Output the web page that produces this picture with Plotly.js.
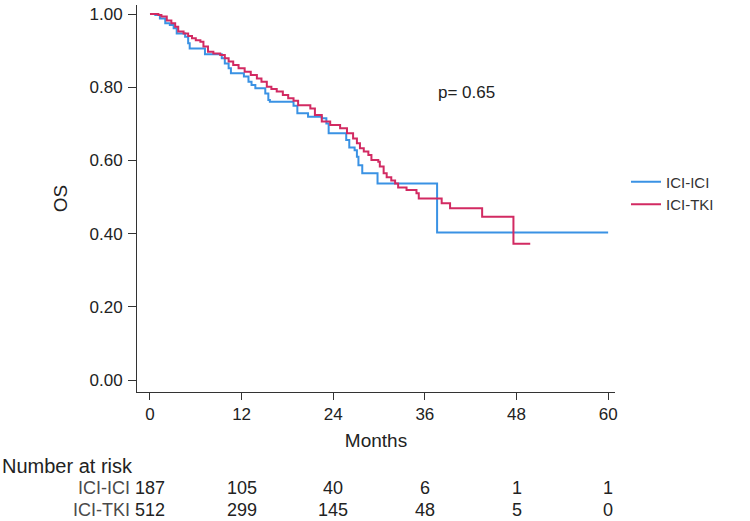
<!DOCTYPE html>
<html>
<head>
<meta charset="utf-8">
<script src="https://cdn.plot.ly/plotly-3.0.1.min.js"></script>
<style>html,body{margin:0;padding:0;background:#fff;}#chart{width:750px;height:521px;}</style>
</head>
<body>
<div id="chart"></div>
<script>
// ICI-ICI Kaplan-Meier steps (months, survival)
var iciIciTime = [0, 0.7, 1.3, 2.0, 2.6, 3.1, 3.5, 4.6, 5.0, 5.2, 7.2, 9.4, 9.8, 10.3, 10.6, 12.3, 12.9, 13.3, 13.8, 15.1, 15.5, 15.7, 18.8, 19.3, 20.7, 22.5, 23.1, 23.4, 25.7, 26.1, 26.8, 27.1, 27.3, 27.8, 29.8, 37.6, 60];
var iciIciSurv = [1.0, 0.997, 0.988, 0.975, 0.970, 0.961, 0.947, 0.938, 0.920, 0.906, 0.890, 0.879, 0.865, 0.852, 0.838, 0.829, 0.815, 0.806, 0.797, 0.783, 0.765, 0.760, 0.749, 0.729, 0.719, 0.715, 0.701, 0.674, 0.656, 0.635, 0.628, 0.610, 0.587, 0.565, 0.537, 0.403, 0.403];

// ICI-TKI Kaplan-Meier steps (months, survival)
var iciTkiTime = [0, 1.1, 1.5, 2.2, 2.8, 3.3, 3.7, 4.4, 5.0, 5.5, 6.0, 6.6, 7.0, 7.6, 8.3, 9.2, 9.8, 10.3, 10.9, 11.6, 12.4, 13.2, 14.0, 14.6, 15.3, 15.9, 16.6, 17.4, 18.1, 18.8, 19.4, 21.0, 21.6, 22.5, 23.6, 24.9, 25.8, 26.6, 27.1, 27.5, 28.0, 28.6, 29.0, 29.9, 30.1, 30.6, 31.0, 31.6, 32.1, 32.5, 33.6, 34.9, 35.2, 38.2, 39.3, 43.5, 47.6, 49.8];
var iciTkiSurv = [1.0, 0.997, 0.993, 0.982, 0.975, 0.965, 0.952, 0.947, 0.940, 0.934, 0.928, 0.924, 0.911, 0.897, 0.892, 0.888, 0.879, 0.870, 0.861, 0.852, 0.842, 0.833, 0.824, 0.815, 0.801, 0.795, 0.788, 0.779, 0.770, 0.763, 0.751, 0.742, 0.724, 0.706, 0.697, 0.688, 0.674, 0.660, 0.647, 0.633, 0.624, 0.615, 0.601, 0.596, 0.583, 0.565, 0.554, 0.545, 0.537, 0.526, 0.519, 0.510, 0.496, 0.483, 0.469, 0.446, 0.372, 0.372];

var xTickVals = [0, 12, 24, 36, 48, 60];
var yTickVals = [0, 0.2, 0.4, 0.6, 0.8, 1.0];
var seriesNames = ['ICI-ICI', 'ICI-TKI'];
var riskTimes = [0, 12, 24, 36, 48, 60];
var riskIciIci = [187, 105, 40, 6, 1, 1];
var riskIciTki = [512, 299, 145, 48, 5, 0];
var pValueText = 'p= 0.65';

var FONT = 'Arial, "Liberation Sans", Helvetica, sans-serif';
var blue = '#3a92e4';
var red = '#d22a62';

var traces = [
  {x: iciIciTime, y: iciIciSurv, type: 'scatter', mode: 'lines', name: seriesNames[0],
   line: {color: blue, width: 2, shape: 'hv'}},
  {x: iciTkiTime, y: iciTkiSurv, type: 'scatter', mode: 'lines', name: seriesNames[1],
   line: {color: red, width: 2, shape: 'hv'}}
];

var annotations = [];
annotations.push({xref: 'x', yref: 'y', x: 41.5, y: 0.786, text: pValueText, showarrow: false,
  xanchor: 'center', yanchor: 'middle', font: {family: FONT, size: 17, color: '#222'}});
annotations.push({xref: 'paper', yref: 'paper', x: -0.287, y: -0.191, text: 'Number at risk', showarrow: false,
  xanchor: 'left', yanchor: 'middle', font: {family: FONT, size: 20, color: '#222'}});
var rowY = [-0.248, -0.305];
var rowData = [riskIciIci, riskIciTki];
for (var r = 0; r < 2; r++) {
  annotations.push({xref: 'paper', yref: 'paper', x: -0.0105, y: rowY[r], text: seriesNames[r], showarrow: false,
    xanchor: 'right', yanchor: 'middle', font: {family: FONT, size: 18, color: '#4a4a4a'}});
  for (var i = 0; i < riskTimes.length; i++) {
    annotations.push({xref: 'x', yref: 'paper', x: riskTimes[i], y: rowY[r], text: String(rowData[r][i]),
      showarrow: false, xanchor: 'center', yanchor: 'middle', font: {family: FONT, size: 18, color: '#222'}});
  }
}

var layout = {
  width: 750, height: 521,
  margin: {l: 137, r: 135, t: 5, b: 129, pad: 0},
  paper_bgcolor: '#fff', plot_bgcolor: '#fff',
  font: {family: FONT, size: 16, color: '#222'},
  showlegend: true,
  legend: {x: 1.023, y: 0.514, xanchor: 'left', yanchor: 'middle', bgcolor: 'rgba(0,0,0,0)',
    font: {family: FONT, size: 15, color: '#333'}, tracegroupgap: 0},
  xaxis: {
    range: [-1.7, 60.9], tickvals: xTickVals, ticktext: xTickVals.map(String),
    showgrid: false, zeroline: false, showline: true, linecolor: '#333', linewidth: 1,
    ticks: 'outside', ticklen: 7, tickcolor: '#333', tickwidth: 1,
    tickfont: {family: FONT, size: 17, color: '#222'},
    title: {text: 'Months', font: {family: FONT, size: 19, color: '#222'}, standoff: 10},
    fixedrange: true
  },
  yaxis: {
    range: [-0.0328, 1.0246], tickvals: yTickVals, tickformat: '.2f',
    showgrid: false, zeroline: false, showline: true, linecolor: '#333', linewidth: 1,
    ticks: 'outside', ticklen: 8, tickcolor: '#333', tickwidth: 1, ticklabelstandoff: 2,
    tickfont: {family: FONT, size: 17, color: '#222'},
    title: {text: 'OS', font: {family: FONT, size: 19, color: '#222'}, standoff: 16},
    fixedrange: true
  },
  annotations: annotations
};

Plotly.newPlot('chart', traces, layout, {displayModeBar: false, staticPlot: true});
</script>
</body>
</html>
